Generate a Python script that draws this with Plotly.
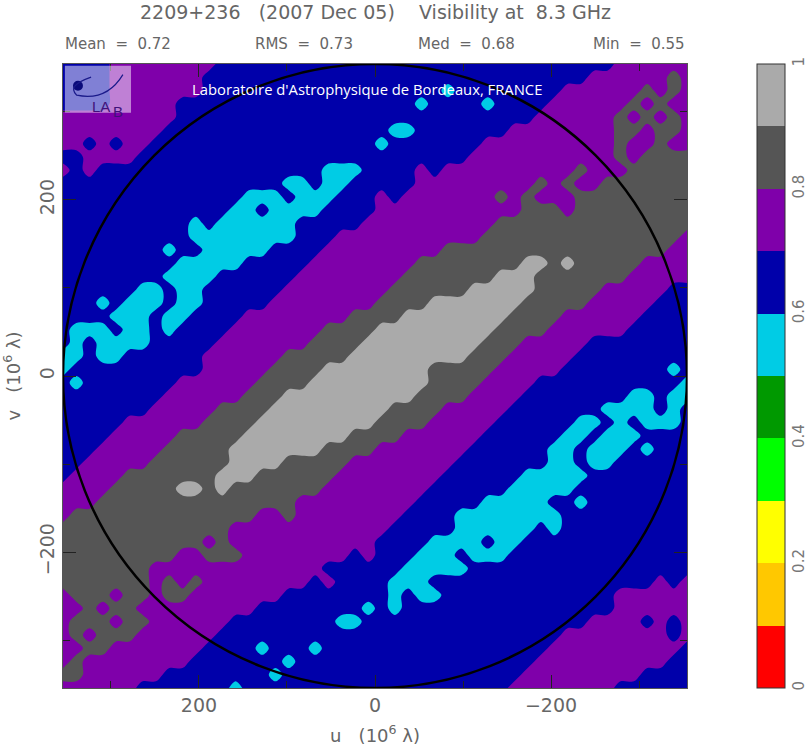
import plotly.graph_objects as go

# Visibility level read per grid node: digit d means the band d/10 .. (d+1)/10
visibility_rows = """
666677 777777 666666 666666 666666 666666 666666 777777
666677 777776 666666 666666 666666 666666 666677 777787
666677 777776 666666 666666 666665 666666 667777 778787
666677 777666 666666 666666 666566 665666 677777 787877
777777 777666 666666 666666 666666 666666 777777 878787
777777 776666 666666 666666 655666 666677 777777 887887
776767 766666 666666 666666 566666 667777 777777 877877
667777 666666 666666 666666 666666 677777 777777 878888
767666 666666 666666 665556 666767 777777 777877 788888
666666 666666 666665 565566 666777 777777 878778 888888
666666 666666 665556 555666 767777 777878 777888 888888
666666 666666 655655 556666 777777 777778 887888 888888
666666 666656 555555 666667 777777 777888 888888 888888
666666 666655 555555 666777 777777 778888 888888 888887
666666 665665 555566 667777 777778 888888 888888 888877
666666 666555 556666 677777 777888 888889 989888 887777
666666 665555 666666 777777 778888 888999 888888 877777
666666 556556 666667 777777 788888 899999 888887 777766
666565 556556 666677 777777 888899 999998 888877 777666
666655 565566 667777 777788 889999 999988 887777 776666
655565 565666 677777 778888 999999 999888 877777 766666
656555 566666 777777 788889 999999 998887 777766 666666
556556 666667 777778 888899 999999 988877 777666 666666
566666 666667 777788 889999 999988 888777 776666 666656
656666 666777 777888 899999 999988 887777 666666 666665
666666 667777 778889 999999 999888 877776 666666 655655
666666 677777 888899 999999 988887 777766 666665 555656
666667 777778 888999 999999 888877 777666 666556 565556
666677 777888 889999 999988 887777 776666 665565 556666
666777 778888 899999 998888 777777 766666 655655 565666
667777 788888 899998 888877 777777 666666 655655 666666
677778 888888 999888 888777 777776 666665 555566 666666
777788 888998 988888 887777 777766 666655 555666 666666
777888 888888 888888 777777 777666 665555 566566 666666
788888 888888 888778 777777 776666 555555 556666 666666
888888 888888 877777 777777 766666 555555 656666 666666
888888 888887 877777 777777 666655 556556 666666 666666
888888 888778 887777 777767 666555 655566 666666 666666
888888 877777 777777 776666 665555 566666 666666 666666
888888 878787 777777 767666 655566 666666 666666 666767
788878 878877 777776 666666 656556 666666 666666 777777
778788 777777 777666 666665 656666 666666 666666 777777
788878 877777 766666 666556 666666 666666 666677 776767
787888 777777 666666 666666 666666 666666 667777 777767
778877 777776 666566 656666 666666 666666 677777 777776
787777 777766 666665 666666 666666 666666 777777 777766
887777 776666 666656 666666 666666 666667 777777 776666
777777 666666 656666 666666 666666 666677 777777 666666
""".strip().splitlines()

UV_RADIUS = 354.5
band_colors = ["#FF0000", "#FFC800", "#FFFF00", "#00FF00", "#009900",
               "#00CCE5", "#0000AA", "#7F00AA", "#555555", "#AAAAAA"]
colorbar_ticks = [0, 0.2, 0.4, 0.6, 0.8, 1]
colorbar_labels = ["0", "0.2", "0.4", "0.6", "0.8", "1"]
axis_ticks = [200, 0, -200]
axis_labels = ["200", "0", "\u2212200"]
N = "\u00a0"
title_text = f"2209+236{N*3}(2007{N}Dec{N}05){N*4}Visibility{N}at{N*2}8.3{N}GHz"
stat_names = ["Mean", "RMS", "Med", "Min"]
stat_values = ["0.72", "0.73", "0.68", "0.55"]
stat_x = [0.0, 0.3045, 0.566, 1.0]
stat_anchor = ["left", "left", "left", "right"]

rows = [r.replace(" ", "") for r in visibility_rows]
n = len(rows)
z = [[int(ch) / 10 + 0.05 for ch in row] for row in rows]
u = [UV_RADIUS - 2 * UV_RADIUS * i / (n - 1) for i in range(n)]
v = [UV_RADIUS - 2 * UV_RADIUS * i / (n - 1) for i in range(n)]

scale = []
for i, c in enumerate(band_colors):
    scale += [[i / 10, c], [(i + 1) / 10, c]]

FONT = "DejaVu Sans"
TXT = "#666666"
fig = go.Figure(go.Contour(
    x=u, y=v, z=z, zmin=0, zmax=1, colorscale=scale,
    autocontour=False,
    contours=dict(start=0, end=1, size=0.1, coloring="fill", showlines=False),
    line=dict(width=0),
    hoverinfo="skip",
    colorbar=dict(
        x=1.1122, xanchor="left", xref="paper", y=0.5, yanchor="middle",
        thickness=28, thicknessmode="pixels", len=1, lenmode="fraction",
        ypad=0, xpad=0, outlinewidth=1, outlinecolor="#333333",
        tickmode="array", tickvals=colorbar_ticks, ticktext=colorbar_labels,
        tickangle=-90, ticks="", ticklabelposition="outside",
        tickfont=dict(family=FONT, size=15, color="#777777"),
    ),
))

fig.update_layout(
    width=810, height=756, autosize=False,
    margin=dict(l=63, r=123, t=64, b=68, autoexpand=False),
    paper_bgcolor="white", plot_bgcolor="white", showlegend=False,
)
axis = dict(
    tickmode="array", tickvals=axis_ticks, ticktext=axis_labels,
    ticks="inside", ticklen=13, tickwidth=1, tickcolor="#222222",
    minor=dict(ticks="inside", ticklen=7, tickwidth=1, tickcolor="#222222", dtick=100),
    showgrid=False, zeroline=False, showline=True, linecolor="#555555", linewidth=1,
    mirror="allticks",
    tickfont=dict(family=FONT, size=19, color=TXT),
)
fig.update_xaxes(range=[UV_RADIUS, -UV_RADIUS], constrain="domain", **axis,
                 title=dict(text=f"u{N*3}(10<sup>6</sup>{N}\u03bb)", standoff=14,
                            font=dict(family=FONT, size=18, color=TXT)))
fig.update_yaxes(range=[-UV_RADIUS, UV_RADIUS], tickangle=-90, **axis,
                 title=dict(text=f"v{N*3}(10<sup>6</sup>{N}\u03bb)", standoff=14,
                            font=dict(family=FONT, size=18, color=TXT)))

# u-v coverage circle
fig.add_shape(type="circle", xref="x", yref="y", x0=-UV_RADIUS, x1=UV_RADIUS,
              y0=-UV_RADIUS, y1=UV_RADIUS, line=dict(color="black", width=2.5))

# Logo block (paper fractions)
fig.add_shape(type="rect", xref="paper", yref="paper", x0=0.003, x1=0.109, y0=0.922, y1=0.997,
              fillcolor="rgba(255,255,255,0.5)", line=dict(width=0))
fig.add_shape(type="circle", xref="paper", yref="paper", x0=0.016, x1=0.032, y0=0.957, y1=0.973,
              fillcolor="#0A0A7A", line=dict(width=0))
fig.add_shape(type="path", xref="paper", yref="paper",
              path="M 0.045 0.979 Q 0.005 0.965 0.022 0.95 Q 0.07 0.94 0.096 0.983",
              line=dict(color="#1A1A8A", width=1.2))
fig.add_annotation(text="LA", xref="paper", yref="paper", x=0.044, y=0.948, showarrow=False,
                   font=dict(family="Liberation Sans", size=15, color="#40107A"))
fig.add_annotation(text="B", xref="paper", yref="paper", x=0.077, y=0.94, showarrow=False,
                   font=dict(family="Liberation Sans", size=15, color="#40107A"))

fig.add_annotation(text="Laboratoire d'Astrophysique de Bordeaux, FRANCE", xref="paper", yref="paper",
                   x=0.4865, y=0.979, showarrow=False,
                   font=dict(family="Open Sans", size=14.8, color="white"))

fig.add_annotation(text=title_text, xref="paper", yref="paper", x=0.5, y=1.084, yanchor="middle",
                   showarrow=False, font=dict(family=FONT, size=19, color=TXT))
for name, val, xp, anc in zip(stat_names, stat_values, stat_x, stat_anchor):
    fig.add_annotation(text=f"{name}{N*2}={N*2}{val}", xref="paper", yref="paper", x=xp, y=1.032,
                       xanchor=anc, yanchor="middle", showarrow=False,
                       font=dict(family=FONT, size=15, color=TXT))

fig.write_html("out.html", config=dict(displayModeBar=False),
               post_script="document.body.style.margin='0';")
